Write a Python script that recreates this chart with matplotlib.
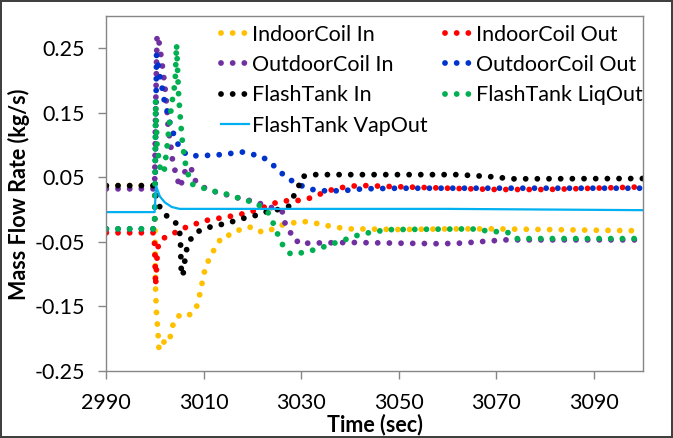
import matplotlib
matplotlib.use("Agg")
import matplotlib.pyplot as plt
from matplotlib.ticker import FixedLocator, FixedFormatter

plt.rcParams['font.family'] = ['Lato', 'DejaVu Sans']

# Data
indoor_in_t = [2990, 2999.9, 3000.1, 3000.3, 3000.5, 3000.8, 3001.1, 3002.0, 3002.9, 3003.4,
               3003.9, 3005.0, 3006.5, 3008.3, 3008.9, 3009.4, 3009.9, 3010.4, 3011.5, 3012.5,
               3013.9, 3015.7, 3017.8, 3020.0, 3021.9, 3023.4, 3025.3, 3027.6, 3029.8, 3032.3,
               3034.5, 3036.9, 3039.3, 3041.8, 3050, 3060, 3070, 3080, 3090, 3100]
indoor_in_v = [0.037, 0.037, -0.127, -0.163, -0.181, -0.216, -0.217, -0.202, -0.204, -0.187,
               -0.171, -0.164, -0.166, -0.156, -0.140, -0.123, -0.104, -0.087, -0.071, -0.056,
               -0.041, -0.039, -0.029, -0.027, -0.035, -0.033, -0.025, -0.022, -0.018, -0.020,
               -0.024, -0.027, -0.030, -0.030, -0.031, -0.030, -0.030, -0.031, -0.032, -0.033]

indoor_out_t = [2990, 2999.8, 3000.0, 3000.1, 3000.4, 3000.6, 3001.2, 3003.4, 3005.3, 3007.5,
                3009.6, 3012.0, 3014.2, 3016.6, 3018.9, 3021.2, 3023.1, 3025.3, 3027.6, 3030.1,
                3032.3, 3034.5, 3036.8, 3039.1, 3041.5, 3044.0, 3046.5, 3060, 3070, 3080, 3090, 3100]
indoor_out_v = [-0.036, -0.036, -0.080, -0.118, -0.075, -0.058, -0.046, -0.039, -0.030, -0.025,
                -0.018, -0.015, -0.012, -0.009, -0.005, 0.000, 0.006, 0.012, 0.014, 0.014,
                0.019, 0.026, 0.032, 0.035, 0.037, 0.037, 0.036, 0.033, 0.031, 0.031, 0.033, 0.035]

outdoor_in_t = [2990, 2999.9, 3000.1, 3000.4, 3000.7, 3001.0, 3001.4, 3001.7, 3002.0, 3002.4,
                3002.7, 3003.2, 3003.4, 3003.9, 3004.4, 3005.3, 3005.6, 3006.8, 3007.4, 3008.0,
                3009.2, 3011.5, 3013.7, 3016.0, 3018.1, 3020.5, 3022.6, 3025.0, 3026.2, 3026.7,
                3027.6, 3028.0, 3028.7, 3029.5, 3031.5, 3040, 3049, 3058.5, 3063, 3068, 3072, 3100]
outdoor_in_v = [0.032, 0.032, 0.150, 0.270, 0.264, 0.250, 0.228, 0.210, 0.191, 0.160,
                0.125, 0.101, 0.083, 0.067, 0.049, 0.034, 0.052, 0.067, 0.064, 0.047,
                0.037, 0.029, 0.025, 0.020, 0.016, 0.012, 0.0065, 0.000, -0.004, -0.023,
                -0.031, -0.042, -0.044, -0.053, -0.052, -0.051, -0.052, -0.053, -0.052, -0.049, -0.047, -0.047]

outdoor_out_t = [2990, 2999.9, 3000.1, 3000.3, 3000.6, 3001.0, 3001.4, 3002.0, 3002.4, 3003.2,
                 3004.1, 3005.0, 3006.6, 3008.9, 3011.2, 3013.5, 3015.7, 3018.0, 3020.2, 3021.9,
                 3023.6, 3025.3, 3027.0, 3028.9, 3031.1, 3033.5, 3036.0, 3038.3, 3042.5, 3050, 3100]
outdoor_out_v = [-0.030, -0.030, 0.100, 0.240, 0.225, 0.205, 0.190, 0.164, 0.155, 0.129,
                 0.111, 0.096, 0.084, 0.083, 0.084, 0.085, 0.087, 0.089, 0.085, 0.082,
                 0.073, 0.061, 0.049, 0.041, 0.033, 0.029, 0.029, 0.029, 0.032, 0.033, 0.033]

flash_in_t = [2990, 2999.9, 3000.2, 3000.9, 3002.0, 3003.7, 3004.9, 3005.2, 3005.3, 3005.4,
              3005.7, 3006.0, 3006.3, 3006.9, 3008.3, 3010.2, 3012.5, 3014.8, 3017.1, 3019.3,
              3021.5, 3023.6, 3025.4, 3027.4, 3028.3, 3029.4, 3030.1, 3032.4, 3062, 3068.6,
              3073.3, 3100]
flash_in_v = [0.037, 0.037, 0.020, 0.005, -0.008, -0.016, -0.027, -0.046, -0.080, -0.101,
              -0.103, -0.085, -0.067, -0.050, -0.036, -0.029, -0.025, -0.021, -0.016, -0.011,
              -0.008, -0.001, 0.000, 0.005, 0.019, 0.035, 0.051, 0.054, 0.054, 0.051,
              0.0475, 0.048]

flash_liq_t = [2990, 2999.9, 3000.1, 3000.4, 3001.0, 3001.8, 3002.4, 3003.1, 3003.7, 3004.1,
               3004.4, 3004.8, 3005.1, 3005.5, 3005.8, 3006.1, 3006.7, 3007.3, 3009.2, 3011.5,
               3013.7, 3015.9, 3018.1, 3020.5, 3022.2, 3023.6, 3024.4, 3025.3, 3026.3, 3027.8,
               3030.0, 3032.3, 3034.5, 3036.8, 3039.2, 3041.5, 3043.8, 3046.2, 3048.6, 3065,
               3068.0, 3072.7, 3074.0, 3100]
flash_liq_v = [-0.030, -0.030, 0.170, 0.100, 0.065, 0.056, 0.093, 0.145, 0.178, 0.196,
               0.256, 0.181, 0.149, 0.112, 0.093, 0.075, 0.057, 0.040, 0.035, 0.029,
               0.026, 0.021, 0.015, 0.011, 0.002, -0.008, -0.025, -0.041, -0.057, -0.069,
               -0.067, -0.063, -0.058, -0.052, -0.046, -0.040, -0.036, -0.033, -0.031, -0.030,
               -0.033, -0.036, -0.045, -0.045]

flash_vap_t = [2990, 2999.9, 3000.2, 3000.5, 3001.0, 3002.0, 3003.4, 3005.0, 3010, 3060, 3080, 3100]
flash_vap_v = [-0.004, -0.004, 0.036, 0.030, 0.020, 0.011, 0.004, 0.001, 0.001, 0.001, 0.000, -0.001]

x_ticks = [2990, 3010, 3030, 3050, 3070, 3090]
y_ticks = [-0.25, -0.15, -0.05, 0.05, 0.15, 0.25]
y_tick_labels = ["-0.25", "-0.15", "-0.05", "0.05", "0.15", "0.25"]

series = [
    ("IndoorCoil In", indoor_in_t, indoor_in_v, "#FFC000"),
    ("IndoorCoil Out", indoor_out_t, indoor_out_v, "#FF0000"),
    ("OutdoorCoil In", outdoor_in_t, outdoor_in_v, "#7030A0"),
    ("OutdoorCoil Out", outdoor_out_t, outdoor_out_v, "#0033CC"),
    ("FlashTank In", flash_in_t, flash_in_v, "#000000"),
    ("FlashTank LiqOut", flash_liq_t, flash_liq_v, "#00B050"),
]

fig = plt.figure(figsize=(6.73, 4.38), dpi=100, linewidth=1.5, edgecolor="#404040")
ax = fig.add_axes([0.158, 0.153, 0.797, 0.811])

# round-dot lines, like Excel's "round dot" dash type
handles = {}
for name, t, v, color in series:
    line, = ax.plot(t, v, color=color, linewidth=4.2, linestyle=(0, (0.001, 2.0)),
                    dash_capstyle="round", label=name)
    handles[name] = line
line, = ax.plot(flash_vap_t, flash_vap_v, color="#00B0F0", linewidth=1.6, label="FlashTank VapOut")
handles["FlashTank VapOut"] = line

ax.set_xlim(2990, 3100)
ax.set_ylim(-0.25, 0.30)
ax.xaxis.set_major_locator(FixedLocator(x_ticks))
ax.yaxis.set_major_locator(FixedLocator(y_ticks))
ax.yaxis.set_major_formatter(FixedFormatter(y_tick_labels))
ax.tick_params(direction="out", length=5.5, width=1, color="#868686", labelsize=15.5)
ax.tick_params(axis="x", pad=10)
ax.tick_params(axis="y", pad=10)

for s in ax.spines.values():
    s.set_color("#868686")
    s.set_linewidth(1)

ax.set_xlabel("Time (sec)", fontsize=15.5, fontweight="bold", va="center")
ax.xaxis.set_label_coords(0.50, -0.152)
ax.set_ylabel("Mass Flow Rate (kg/s)", fontsize=15.5, fontweight="bold", va="center")
ax.yaxis.set_label_coords(-0.163, 0.496)

order = ["IndoorCoil In", "OutdoorCoil In", "FlashTank In", "FlashTank VapOut",
         "IndoorCoil Out", "OutdoorCoil Out", "FlashTank LiqOut"]
ax.legend([handles[n] for n in order], order, ncol=2, loc="upper left",
          bbox_to_anchor=(0.214, 0.975), frameon=False, fontsize=15.5,
          handlelength=1.3, handletextpad=0.15, columnspacing=0.8,
          labelspacing=0.48, borderpad=0, borderaxespad=0)

fig.savefig("out.png", dpi=100)
